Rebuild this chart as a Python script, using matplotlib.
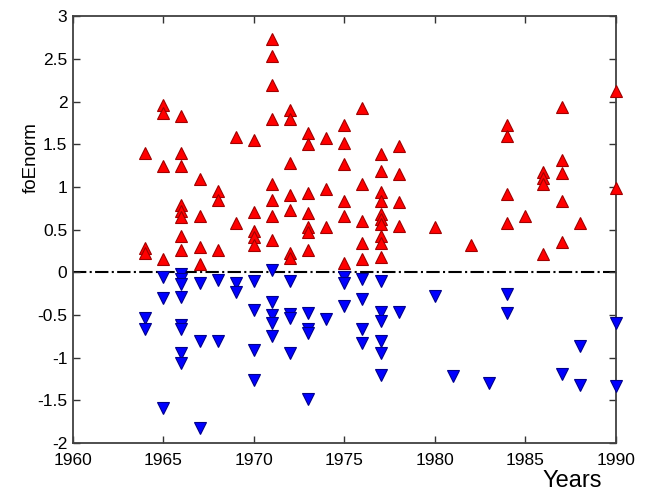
import numpy as np
import matplotlib
matplotlib.use('Agg')
import matplotlib.pyplot as plt

plt.rcParams['font.family'] = ['Liberation Sans', 'DejaVu Sans']

# positive anomalies (red, up triangles)
up_years = [1964]*3 + [1965]*4 + [1966]*8 + [1967]*4 + [1968]*3 + [1969]*2 + \
    [1970]*5 + [1971]*8 + [1972]*7 + [1973]*7 + [1974]*3 + [1975]*6 + \
    [1976]*5 + [1977]*10 + [1978]*4 + [1980] + [1982] + [1984]*4 + [1985] + \
    [1986]*4 + [1987]*5 + [1988] + [1990]*2
up_vals = [1.40, 0.285, 0.23,
           1.96, 1.87, 1.25, 0.157,
           1.83, 1.40, 1.25, 0.79, 0.72, 0.65, 0.42, 0.266,
           1.09, 0.66, 0.30, 0.10,
           0.95, 0.85, 0.26,
           1.585, 0.58,
           1.545, 0.71, 0.48, 0.41, 0.32,
           2.73, 2.53, 2.19, 1.80, 1.03, 0.85, 0.66, 0.38,
           1.905, 1.80, 1.28, 0.91, 0.73, 0.23, 0.17,
           1.63, 1.50, 0.93, 0.70, 0.53, 0.47, 0.26,
           1.57, 0.98, 0.53,
           1.72, 1.52, 1.27, 0.84, 0.66, 0.11,
           1.925, 1.04, 0.60, 0.34, 0.15,
           1.39, 1.19, 0.94, 0.83, 0.68, 0.625, 0.56, 0.42, 0.34, 0.18,
           1.475, 1.15, 0.82, 0.54,
           0.53,
           0.32,
           1.73, 1.60, 0.92, 0.58,
           0.66,
           1.17, 1.105, 1.03, 0.21,
           1.94, 1.32, 1.16, 0.84, 0.36,
           0.58,
           2.12, 0.99]

# negative anomalies (blue, down triangles)
dn_years = [1964]*2 + [1965]*3 + [1966]*8 + [1967]*3 + [1968]*2 + [1969]*2 + \
    [1970]*4 + [1971]*5 + [1972]*4 + [1973]*4 + [1974] + [1975]*3 + \
    [1976]*4 + [1977]*6 + [1978] + [1980] + [1981] + [1983] + [1984]*2 + \
    [1987] + [1988]*2 + [1990]*2
dn_vals = [-0.53, -0.67,
           -0.05, -0.30, -1.59,
           -0.02, -0.08, -0.14, -0.29, -0.62, -0.66, -0.94, -1.06,
           -0.12, -0.80, -1.83,
           -0.085, -0.81,
           -0.12, -0.23,
           -0.105, -0.44, -0.905, -1.26,
           0.03, -0.35, -0.50, -0.59, -0.75,
           -0.10, -0.49, -0.53, -0.94,
           -0.475, -0.66, -0.71, -1.49,
           -0.55,
           -0.05, -0.12, -0.39,
           -0.075, -0.31, -0.67, -0.83,
           -0.10, -0.46, -0.57, -0.81, -0.94, -1.20,
           -0.46,
           -0.28,
           -1.22,
           -1.30,
           -0.26, -0.48,
           -1.19,
           -0.86, -1.315,
           -0.59, -1.33]

fig = plt.figure(figsize=(6.51, 4.92), dpi=100)
ax = fig.add_axes([0.112, 0.0996, 0.834, 0.8674])

ax.plot([1960, 1990], [0, 0], color='black', linestyle='-.', linewidth=1.5, zorder=1)
ax.plot(up_years, up_vals, linestyle='none', marker='^', markersize=9,
        markerfacecolor='#ff0000', markeredgecolor='#a00000', markeredgewidth=0.8,
        clip_on=False, zorder=3)
ax.plot(dn_years, dn_vals, linestyle='none', marker='v', markersize=9,
        markerfacecolor='#0000ff', markeredgecolor='#00008b', markeredgewidth=0.8,
        clip_on=False, zorder=3)

ax.set_xlim(1960, 1990)
ax.set_ylim(-2, 3)
ax.set_xticks(np.arange(1960, 1991, 5))
ax.set_yticks(np.arange(-2, 3.01, 0.5))
ax.set_yticklabels(['-2', '-1.5', '-1', '-0.5', '0', '0.5', '1', '1.5', '2', '2.5', '3'])
ax.tick_params(direction='in', top=True, right=True, length=5, width=1,
               labelsize=12.5, colors='#333333', labelcolor='black')
ax.tick_params(axis='x', pad=7)
ax.tick_params(axis='y', pad=4)
for s in ax.spines.values():
    s.set_color('#404040')
    s.set_linewidth(1.3)

ax.set_xlabel('Years', fontsize=17)
ax.xaxis.set_label_coords(0.92, -0.063)
ax.set_ylabel('foEnorm', fontsize=13.5)
ax.yaxis.set_label_coords(-0.062, 0.67)

plt.savefig('out.png', dpi=100)
